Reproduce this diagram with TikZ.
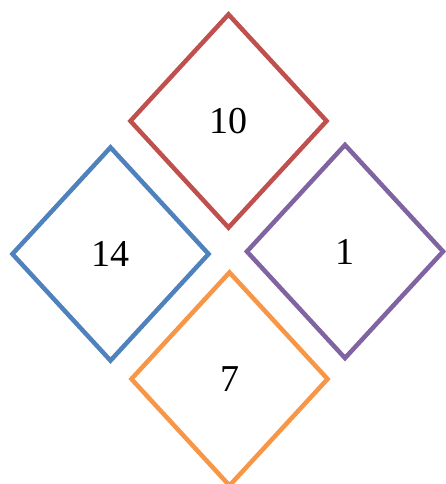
\documentclass[tikz,border=0pt]{standalone}
\usepackage{fontspec}
\setmainfont{Liberation Serif}
\usetikzlibrary{shapes.geometric}
\definecolor{cred}{HTML}{C0504D}
\definecolor{cblue}{HTML}{4F81BD}
\definecolor{cpurple}{HTML}{8064A2}
\definecolor{corange}{HTML}{F79646}
\begin{document}
\begin{tikzpicture}[x=1pt,y=-1pt,
  dia/.style={diamond,draw=#1,line width=4.5pt,inner sep=0pt,
    minimum width=198pt,minimum height=215pt,
    font=\fontsize{38}{44}\selectfont}]
\useasboundingbox (0,0) rectangle (445,484);
\node[dia=cred] (ten) at (228.5,121) {10};
\node[dia=cblue] (fourteen) at (110.5,254) {14};
\node[dia=cpurple] (one) at (345,251.5) {1};
\node[dia=corange] (seven) at (229.5,379) {7};
\end{tikzpicture}
\end{document}
